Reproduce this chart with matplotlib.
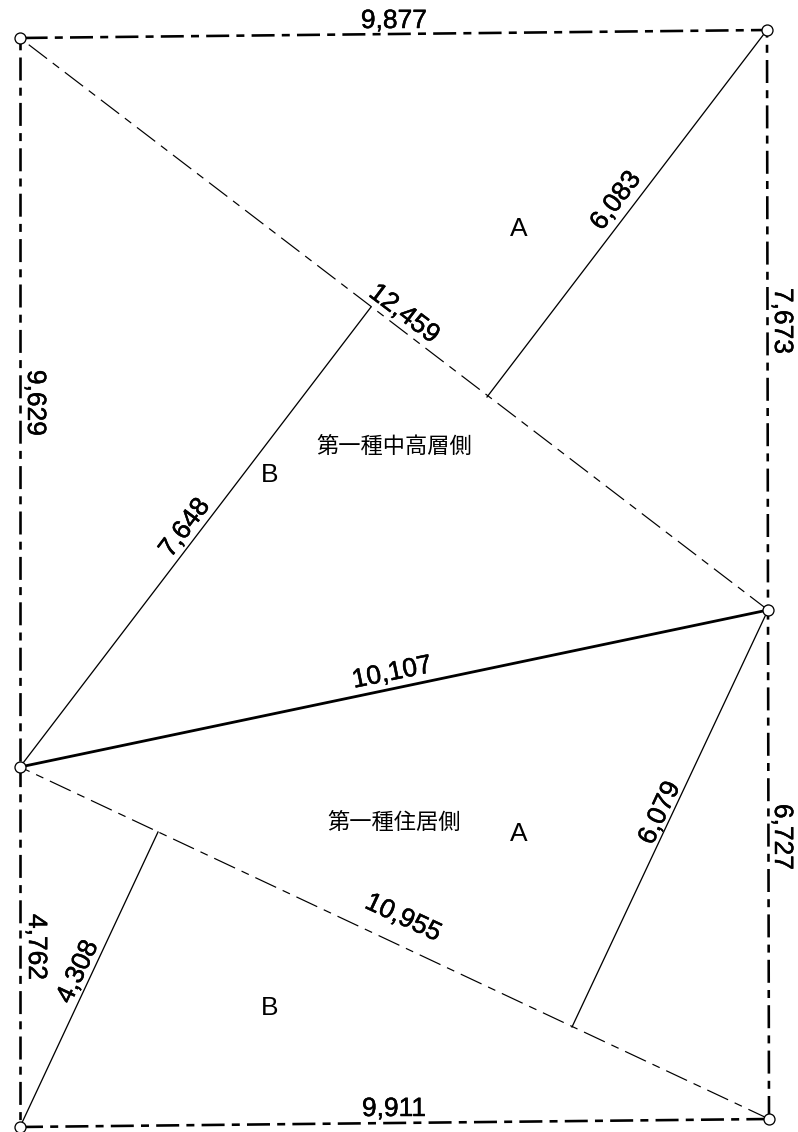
import matplotlib
matplotlib.use("Agg")
import matplotlib.pyplot as plt
import matplotlib.patheffects as pe

plt.rcParams['lines.scale_dashes'] = False
plt.rcParams['font.family'] = ['Liberation Sans', 'Noto Sans CJK JP', 'DejaVu Sans']

# corner stations (image-scale survey coordinates)
station_x = [20, 767, 768, 769, 20, 20]
station_y = [38, 30, 610, 1119, 1127, 767]

# boundary: start/end x, y and dash phase in px
bound_x0 = [20, 767, 768, 20, 20, 20]
bound_y0 = [38, 30, 610, 1127, 38, 767]
bound_x1 = [767, 768, 769, 769, 20, 20]
bound_y1 = [30, 610, 1119, 1119, 767, 1127]
bound_phase = [40.8, 15.4, 13.4, 0, 26.4, 3.4]

# diagonals (thin chain)
diag_x0 = [20, 20]
diag_y0 = [38, 767]
diag_x1 = [768, 769]
diag_y1 = [610, 1119]
diag_phase = [34.4, 12.4]

# perpendiculars (thin solid)
perp_x0 = [487, 371, 572, 158]
perp_y0 = [397, 307, 1027, 832]
perp_x1 = [767, 20, 768, 20]
perp_y1 = [30, 767, 610, 1127]

# zone boundary (heavy)
zone_x = [20, 768]
zone_y = [767, 610]

dim_labels = ['9,877', '9,911', '9,629', '4,762', '7,673', '6,727',
              '6,083', '7,648', '6,079', '4,308', '12,459', '10,955', '10,107']
dim_x = [394, 394, 35, 36, 782, 782, 616, 185, 660, 78, 404, 403, 392]
dim_y = [21, 1109, 403, 947, 321, 837, 201, 528, 813, 972, 314, 918, 673]
dim_rot = [0, 0, -90, -90, -90, -90, 53, 53, 65, 65, -37, -25, 11.5]

area_labels = ['A', 'B', 'A', 'B']
area_x = [519, 270, 519, 270]
area_y = [229, 475, 834, 1008]

zone_labels = ['第一種中高層側', '第一種住居側']
zone_lx = [394, 394]
zone_ly = [446, 822]

PX = 72 / 100  # points per pixel at dpi 100
chain = [23 * PX, 7.2 * PX, 8 * PX, 7.2 * PX]

fig = plt.figure(figsize=(7.98, 11.32), dpi=100)
ax = fig.add_axes([0, 0, 1, 1])
ax.set_xlim(0, 798)
ax.set_ylim(1132, 0)
ax.axis('off')

for x0, y0, x1, y1, ph in zip(bound_x0, bound_y0, bound_x1, bound_y1, bound_phase):
    ax.plot([x0, x1], [y0, y1], color='black', lw=2.6 * PX,
            linestyle=(ph * PX, chain), dash_capstyle='butt', zorder=2)

for x0, y0, x1, y1, ph in zip(diag_x0, diag_y0, diag_x1, diag_y1, diag_phase):
    ax.plot([x0, x1], [y0, y1], color='black', lw=1.2 * PX,
            linestyle=(ph * PX, chain), dash_capstyle='butt', zorder=2)

for x0, y0, x1, y1 in zip(perp_x0, perp_y0, perp_x1, perp_y1):
    ax.plot([x0, x1], [y0, y1], color='black', lw=1.3 * PX, zorder=2)

ax.plot(zone_x, zone_y, color='black', lw=2.8 * PX, zorder=2)

ax.plot(station_x, station_y, linestyle='none', marker='o', markersize=11 * PX,
        markerfacecolor='white', markeredgecolor='black',
        markeredgewidth=1.3 * PX, zorder=3)

bolder = [pe.withStroke(linewidth=0.35, foreground='black')]

for s, x, y, r in zip(dim_labels, dim_x, dim_y, dim_rot):
    ax.text(x, y, s, fontsize=19, rotation=r, rotation_mode='anchor',
            ha='center', va='center', color='black', zorder=4, path_effects=bolder)

for s, x, y in zip(area_labels, area_x, area_y):
    ax.text(x, y, s, fontsize=19, ha='center', va='center', color='black', zorder=4)

for s, x, y in zip(zone_labels, zone_lx, zone_ly):
    ax.text(x, y, s, fontsize=16, ha='center', va='center', color='black',
            family=['Noto Sans CJK JP', 'DejaVu Sans'], zorder=4)

fig.savefig('out.png', dpi=100, facecolor='white')
